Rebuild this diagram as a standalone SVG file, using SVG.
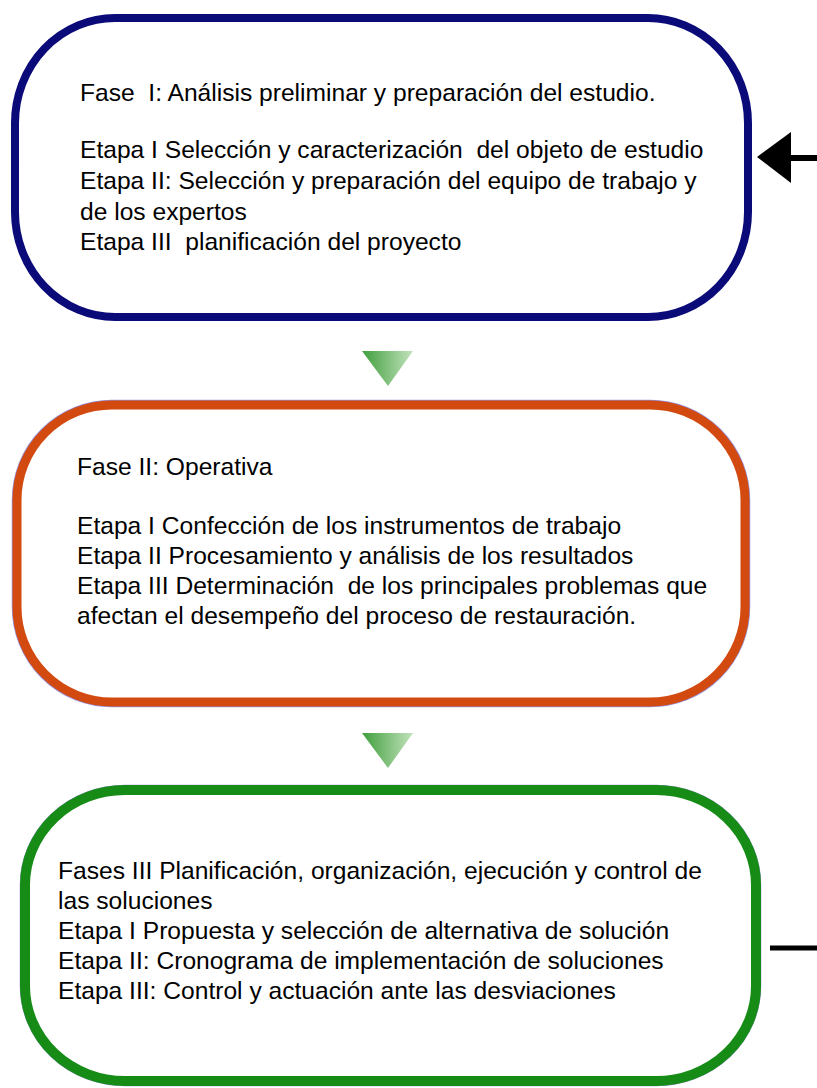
<svg xmlns="http://www.w3.org/2000/svg" width="817" height="1088" viewBox="0 0 817 1088">
<defs>
<style>
.t{font-family:"Liberation Sans",Arial,sans-serif;font-size:24.6px;fill:#000}
.halo{fill:none;stroke:#9690d8;stroke-width:10.5}
</style>
<linearGradient id="g" x1="0" y1="0" x2="1" y2="0">
<stop offset="0" stop-color="#3f9f3c"/>
<stop offset="1" stop-color="#c2e2bc"/>
</linearGradient>
</defs>
<rect width="817" height="1088" fill="#fff"/>
<g id="fase1">
<rect x="15" y="18" width="733" height="299" rx="100" ry="105" fill="#fff" stroke="#0a0a78" stroke-width="8"/>
<text class="t" x="80" y="101" xml:space="preserve">Fase  I: Análisis preliminar y preparación del estudio.</text>
<text class="t" x="80" y="158" xml:space="preserve">Etapa I Selección y caracterización  del objeto de estudio</text>
<text class="t" x="80" y="189">Etapa II: Selección y preparación del equipo de trabajo y</text>
<text class="t" x="80" y="220">de los expertos</text>
<text class="t" x="80" y="250" xml:space="preserve">Etapa III  planificación del proyecto</text>
</g>
<g id="fase2">
<rect x="17" y="405" width="728" height="297" rx="95" ry="95" class="halo"/>
<rect x="17" y="405" width="728" height="297" rx="95" ry="95" fill="#fff" stroke="#d24a10" stroke-width="9"/>
<text class="t" x="77" y="475">Fase II: Operativa</text>
<text class="t" x="77" y="534">Etapa I Confección de los instrumentos de trabajo</text>
<text class="t" x="77" y="564">Etapa II Procesamiento y análisis de los resultados</text>
<text class="t" x="77" y="594" xml:space="preserve">Etapa III Determinación  de los principales problemas que</text>
<text class="t" x="77" y="624">afectan el desempeño del proceso de restauración.</text>
</g>
<g id="fase3">
<rect x="25" y="790" width="731" height="291" rx="100" ry="95" class="halo"/>
<rect x="25" y="790" width="731" height="291" rx="100" ry="95" fill="#fff" stroke="#168c16" stroke-width="10"/>
<text class="t" x="58" y="879">Fases III Planificación, organización, ejecución y control de</text>
<text class="t" x="58" y="909">las soluciones</text>
<text class="t" x="58" y="939">Etapa I Propuesta y selección de alternativa de solución</text>
<text class="t" x="58" y="969">Etapa II: Cronograma de implementación de soluciones</text>
<text class="t" x="58" y="999">Etapa III: Control y actuación ante las desviaciones</text>
</g>
<g id="connectors">
<polygon points="362,351 413,351 388,386" fill="url(#g)"/>
<polygon points="362,733 413,733 388,768" fill="url(#g)"/>
<polygon points="757,157 791,132 791,183" fill="#000"/>
<line x1="790" y1="158" x2="817" y2="158" stroke="#000" stroke-width="6"/>
<line x1="770" y1="948" x2="817" y2="948" stroke="#000" stroke-width="5"/>
</g>
</svg>
